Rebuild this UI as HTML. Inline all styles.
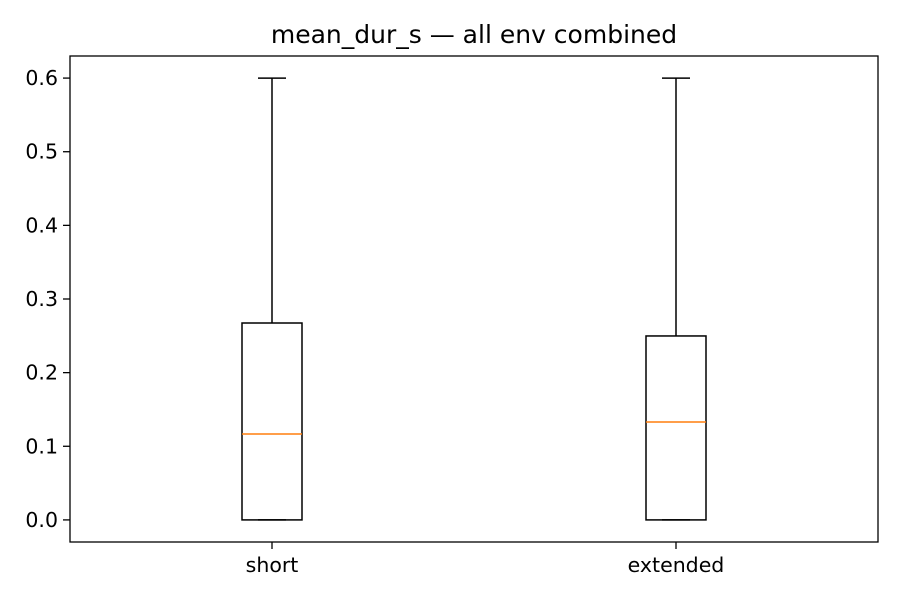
<!DOCTYPE html>
<html><head><meta charset="utf-8"><style>
body{margin:0;background:#fff;}
svg text{font-family:"DejaVu Sans","Liberation Sans",sans-serif;}
</style></head><body>
<svg id="chart" width="900" height="600" xmlns="http://www.w3.org/2000/svg">
<rect width="900" height="600" fill="#fff"/>
<text x="474" y="43" font-size="25" text-anchor="middle">mean_dur_s — all env combined</text>
<g id="marks"></g>
<g id="axes"></g>
<rect x="70" y="56" width="808" height="486" fill="none" stroke="#000" stroke-width="1.3"/>
</svg>
<script>
const categories = ["short", "extended"];
const whiskerLow = [0, 0];
const q1 = [0, 0];
const medians = [0.1167, 0.133];
const q3 = [0.2674, 0.2498];
const whiskerHigh = [0.6, 0.6];
const yTicks = [0.0, 0.1, 0.2, 0.3, 0.4, 0.5, 0.6];

const NS = "http://www.w3.org/2000/svg";
const L = 70, R = 878, T = 56, B = 542, yMin = -0.03, yMax = 0.63;
const y = v => B - (v - yMin) / (yMax - yMin) * (B - T);
const x = i => L + (R - L) * (0.25 + 0.5 * i);
const boxW = 60, capW = 28, SW = 1.5;
const marks = document.getElementById("marks"), axes = document.getElementById("axes");
function el(tag, attrs, parent) {
  const e = document.createElementNS(NS, tag);
  for (const k in attrs) e.setAttribute(k, attrs[k]);
  parent.appendChild(e);
  return e;
}
yTicks.forEach(t => {
  const ln = el("line", {x1: L - 7, x2: L, y1: y(t), y2: y(t), stroke: "#000", "stroke-width": 1.3}, axes);
  
  
  const tx = el("text", {x: L - 12, y: y(t) + 7, "font-size": 20.5, "text-anchor": "end"}, axes);
  tx.textContent = t.toFixed(1);
  
  
});
categories.forEach((c, i) => {
  const cx = x(i);
  const tk = el("line", {x1: cx, x2: cx, y1: B, y2: B + 7, stroke: "#000", "stroke-width": 1.3}, axes);
  
  
  const tx = el("text", {x: cx, y: B + 30, "font-size": 20.5, "text-anchor": "middle"}, axes);
  tx.textContent = c;
  
  
  const g = el("g", {}, marks);
  
  
  el("line", {x1: cx, x2: cx, y1: y(q3[i]), y2: y(whiskerHigh[i]), stroke: "#000", "stroke-width": SW}, g);
  el("line", {x1: cx, x2: cx, y1: y(q1[i]), y2: y(whiskerLow[i]), stroke: "#000", "stroke-width": SW}, g);
  el("line", {x1: cx - capW/2, x2: cx + capW/2, y1: y(whiskerHigh[i]), y2: y(whiskerHigh[i]), stroke: "#000", "stroke-width": SW}, g);
  el("line", {x1: cx - capW/2, x2: cx + capW/2, y1: y(whiskerLow[i]), y2: y(whiskerLow[i]), stroke: "#000", "stroke-width": SW}, g);
  el("rect", {x: cx - boxW/2, y: y(q3[i]), width: boxW, height: y(q1[i]) - y(q3[i]), fill: "none", stroke: "#000", "stroke-width": SW}, g);
  el("line", {x1: cx - boxW/2, x2: cx + boxW/2, y1: y(medians[i]), y2: y(medians[i]), stroke: "#ff7f0e", "stroke-width": SW}, g);
});
</script>
</body></html>
